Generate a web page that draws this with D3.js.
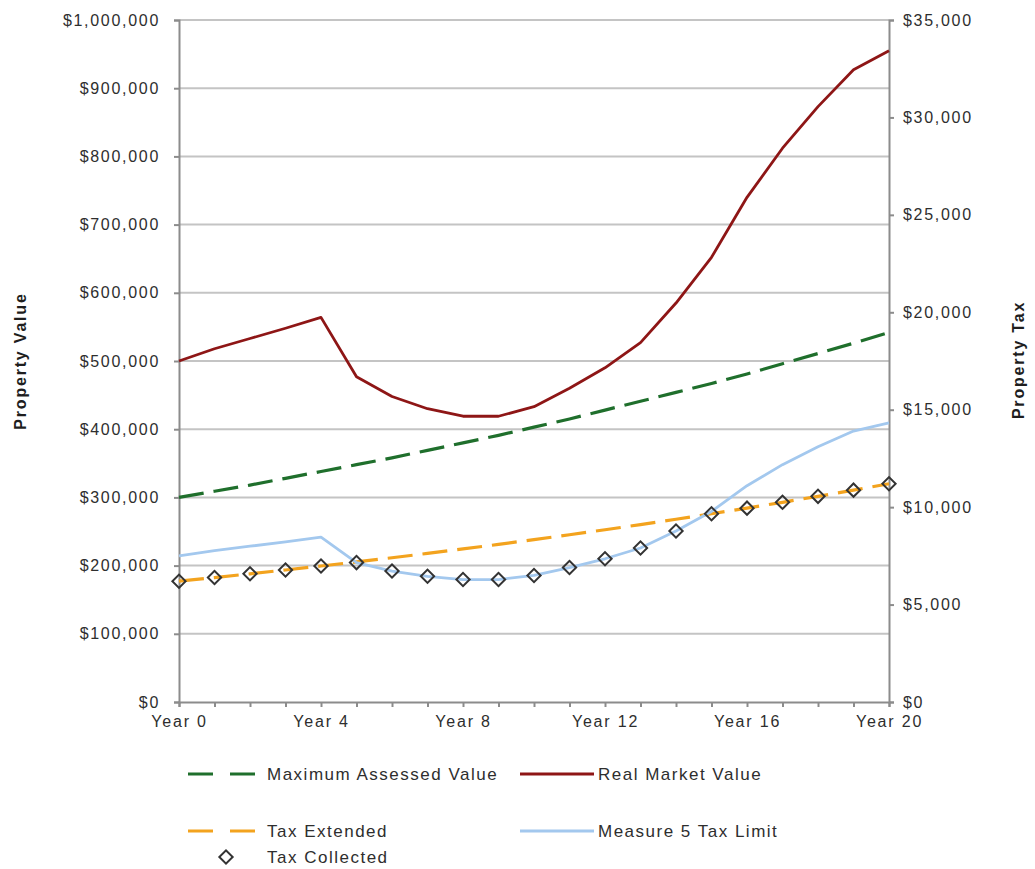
<!DOCTYPE html>
<html>
<head>
<meta charset="utf-8">
<script src="https://cdn.jsdelivr.net/npm/d3@7"></script>
<style>
  html, body { margin: 0; padding: 0; background: #fff; }
  svg { display: block; font-family: "Liberation Sans", Arial, sans-serif; }
</style>
</head>
<body>
<svg id="chart" width="1035" height="869"></svg>
<script>
// Years on the horizontal axis
const years = d3.range(0, 21);
const yearTickLabels = ["Year 0", "Year 4", "Year 8", "Year 12", "Year 16", "Year 20"];
const yearTickValues = [0, 4, 8, 12, 16, 20];

// Property values (left axis, dollars)
const maxAssessedValue = [300000, 309000, 318000, 328000, 338000, 348000, 358000, 369000, 380000, 391000,
  403000, 415000, 428000, 441000, 454000, 467000, 481000, 496000, 511000, 526000, 542000];
const realMarketValue = [500000, 518000, 533000, 548000, 564000, 477000, 448000, 430000, 419000, 419000,
  433000, 460000, 490000, 527000, 585000, 652000, 740000, 812000, 873000, 927000, 955000];

// Property taxes (right axis, dollars)
const taxExtended = [6200, 6386, 6578, 6775, 6978, 7188, 7403, 7625, 7854, 8090,
  8332, 8582, 8840, 9105, 9378, 9660, 9949, 10248, 10555, 10872, 11198];
const measure5Limit = [7500, 7770, 7995, 8220, 8460, 7155, 6720, 6450, 6285, 6285,
  6495, 6900, 7350, 7905, 8775, 9780, 11100, 12180, 13095, 13905, 14325];
const taxCollected = [6200, 6386, 6578, 6775, 6978, 7155, 6720, 6450, 6285, 6285,
  6495, 6900, 7350, 7905, 8775, 9660, 9949, 10248, 10555, 10872, 11198];

// Axis tick values
const valueTicks = d3.range(0, 1000001, 100000);
const taxTicks = d3.range(0, 35001, 5000);

const svg = d3.select("#chart");
const textColor = "#2e2e2e";
const axisColor = "#8c8c8c";

const x = d3.scaleLinear().domain([0, 20]).range([179, 889]);
const yValue = d3.scaleLinear().domain([0, 1000000]).range([702, 20]);
const yTax = d3.scaleLinear().domain([0, 35000]).range([702, 20]);

const money = d => "$" + d3.format(",")(d);

// Horizontal gridlines
svg.append("g")
  .selectAll("line")
  .data(valueTicks.filter(d => d > 0))
  .join("line")
  .attr("x1", x(0)).attr("x2", x(20))
  .attr("y1", d => yValue(d)).attr("y2", d => yValue(d))
  .attr("stroke", "#c4c4c4").attr("stroke-width", 2);

// Left axis
const leftAxis = svg.append("g")
  .attr("transform", `translate(${x(0)},0)`)
  .call(d3.axisLeft(yValue).tickValues(valueTicks).tickFormat(money).tickSize(5).tickPadding(14));

// Right axis
const rightAxis = svg.append("g")
  .attr("transform", `translate(${x(20)},0)`)
  .call(d3.axisRight(yTax).tickValues(taxTicks).tickFormat(money).tickSize(5).tickPadding(9));

// Bottom axis, a tick per year
const bottomAxis = svg.append("g")
  .attr("transform", `translate(0,${yValue(0)})`)
  .call(d3.axisBottom(x).tickValues(years)
    .tickFormat(d => yearTickValues.includes(d) ? yearTickLabels[yearTickValues.indexOf(d)] : "")
    .tickSize(5).tickPadding(9));

[leftAxis, rightAxis, bottomAxis].forEach(g => {
  g.select(".domain").attr("stroke", axisColor).attr("stroke-width", 2);
  g.selectAll(".tick line").attr("stroke", axisColor).attr("stroke-width", 2);
  g.selectAll(".tick text")
    .attr("fill", textColor)
    .style("font-size", "16px")
    .style("letter-spacing", "1.7px");
});
bottomAxis.selectAll(".tick text").style("letter-spacing", "1.8px");

// Axis titles
svg.append("text")
  .attr("transform", "translate(26,361) rotate(-90)")
  .attr("text-anchor", "middle")
  .attr("fill", "#1e1e1e")
  .style("font-size", "16px").style("font-weight", "bold").style("letter-spacing", "1.8px")
  .text("Property Value");
svg.append("text")
  .attr("transform", "translate(1024,360) rotate(-90)")
  .attr("text-anchor", "middle")
  .attr("fill", "#1e1e1e")
  .style("font-size", "16px").style("font-weight", "bold").style("letter-spacing", "1.8px")
  .text("Property Tax");

const valueLine = d3.line().x((d, i) => x(years[i])).y(d => yValue(d));
const taxLine = d3.line().x((d, i) => x(years[i])).y(d => yTax(d));

const colors = {
  mav: "#1f6f2c",
  rmv: "#8e1616",
  ext: "#f3a31e",
  limit: "#a3c8ee",
  collected: "#333333"
};
const dash = "25 10";

svg.append("path").datum(maxAssessedValue)
  .attr("d", valueLine).attr("fill", "none")
  .attr("stroke", colors.mav).attr("stroke-width", 3.2).attr("stroke-dasharray", dash);

svg.append("path").datum(realMarketValue)
  .attr("d", valueLine).attr("fill", "none")
  .attr("stroke", colors.rmv).attr("stroke-width", 2.8).attr("stroke-linejoin", "round");

svg.append("path").datum(taxExtended)
  .attr("d", taxLine).attr("fill", "none")
  .attr("stroke", colors.ext).attr("stroke-width", 3.2).attr("stroke-dasharray", dash);

svg.append("path").datum(measure5Limit)
  .attr("d", taxLine).attr("fill", "none")
  .attr("stroke", colors.limit).attr("stroke-width", 2.8).attr("stroke-linejoin", "round");

const diamond = d3.symbol().type(d3.symbolSquare).size(88);
svg.append("g")
  .selectAll("path")
  .data(taxCollected)
  .join("path")
  .attr("d", diamond)
  .attr("transform", (d, i) => `translate(${x(years[i])},${yTax(d)}) rotate(45)`)
  .attr("fill", "none")
  .attr("stroke", colors.collected).attr("stroke-width", 2);

// Legend
const legendItems = [
  { label: "Maximum Assessed Value", color: colors.mav, kind: "dash", x: 188, y: 774 },
  { label: "Real Market Value", color: colors.rmv, kind: "solid", x: 520, y: 774 },
  { label: "Tax Extended", color: colors.ext, kind: "dash", x: 188, y: 831 },
  { label: "Measure 5 Tax Limit", color: colors.limit, kind: "solid", x: 520, y: 831 },
  { label: "Tax Collected", color: colors.collected, kind: "marker", x: 188, y: 857 }
];
const legend = svg.append("g");
legendItems.forEach(it => {
  const g = legend.append("g").attr("transform", `translate(${it.x},${it.y})`);
  if (it.kind === "dash") {
    g.append("line").attr("x1", 0).attr("x2", 70).attr("y1", 0).attr("y2", 0)
      .attr("stroke", it.color).attr("stroke-width", 3.2).attr("stroke-dasharray", "25 17");
  } else if (it.kind === "solid") {
    g.append("line").attr("x1", 0).attr("x2", 74).attr("y1", 0).attr("y2", 0)
      .attr("stroke", it.color).attr("stroke-width", 3.2);
  } else {
    g.append("path").attr("d", diamond)
      .attr("transform", "translate(38,0) rotate(45)")
      .attr("fill", "none").attr("stroke", it.color).attr("stroke-width", 2);
  }
  g.append("text")
    .attr("x", it.kind === "solid" ? 78 : 79)
    .attr("y", 0).attr("dy", "0.35em")
    .attr("fill", textColor)
    .style("font-size", "17px").style("letter-spacing", "1.5px")
    .text(it.label);
});
</script>
</body>
</html>
